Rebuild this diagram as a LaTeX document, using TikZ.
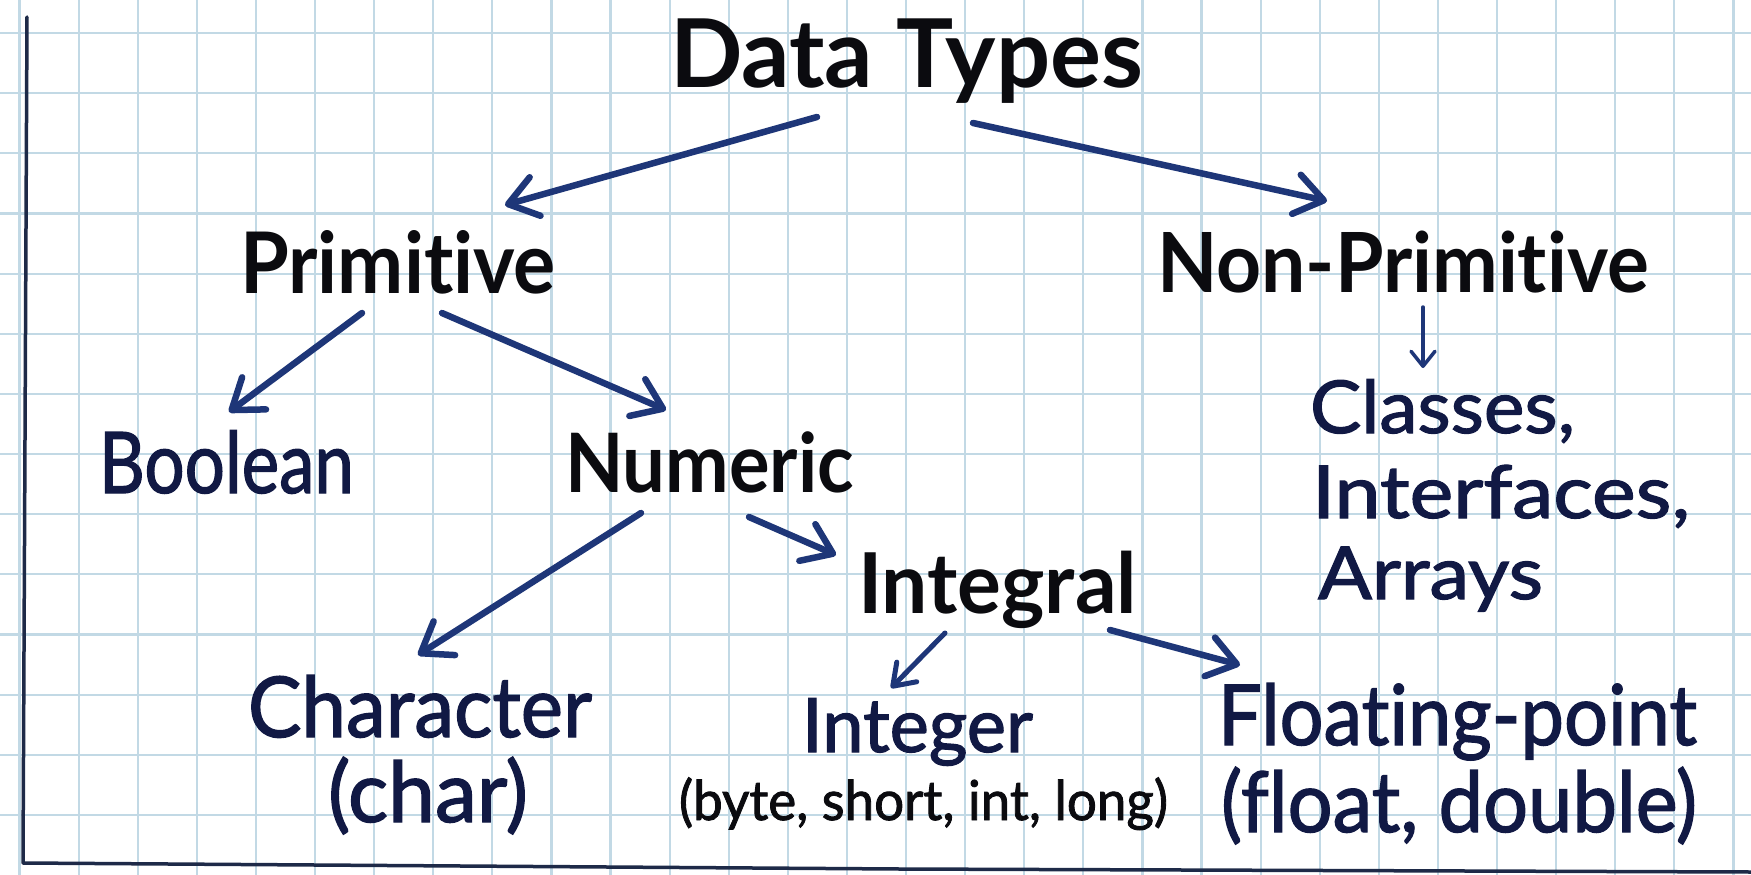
\documentclass[tikz,border=0pt]{standalone}
\usepackage{fontspec}
\setmainfont{Lato}[Ligatures=NoCommon]
\newfontfamily\inkfont{Lato}[Ligatures=NoCommon, FakeBold=1.6]
\usetikzlibrary{arrows.meta}
\definecolor{gridblue}{HTML}{C2D9E5}
\definecolor{ink}{HTML}{111944}
\definecolor{inkblack}{HTML}{0B0B0F}
\definecolor{arrowblue}{HTML}{1E3678}
\definecolor{framecol}{HTML}{1E2A48}
% set a label to a given width, keeping its natural height
\newcommand\fitw[2]{\resizebox{#1}{\height}{#2}}
\begin{document}
\begin{tikzpicture}[x=1pt,y=-1pt,
  lbl/.style={inner sep=0pt, outer sep=0pt, anchor=base west},
  boldlbl/.style={lbl, text=inkblack},
  plainlbl/.style={lbl, text=ink},
  conn/.style={draw=arrowblue, line width=6.5pt, line cap=round, line join=round,
    -{Straight Barb[length=28pt,width=40pt,round]}},
  smallconn/.style={conn, line width=5pt, -{Straight Barb[length=20pt,width=28pt,round]}},
  tinyconn/.style={conn, line width=3.5pt, -{Straight Barb[length=15pt,width=24pt,round]}},
]
% paper
\fill[white] (0,0) rectangle (1751,875);
\useasboundingbox (0,0) rectangle (1751,875);
\foreach \k in {0,...,29} \draw[gridblue, line width=2.2pt] ({19.5+59.1*\k},0) -- ++(0,875);
\foreach \k in {0,...,13} \draw[gridblue, line width=2.2pt] (0,{33+60.15*\k}) -- ++(1751,0);
\draw[framecol, line width=3.5pt, line cap=round, line join=round]
  (27,17) -- (23,863) -- (900,869) -- (1751,872);

% labels
\node[boldlbl, font={\fontsize{95}{95}\selectfont\bfseries}] (dt) at (670,88) {\fitw{473pt}{Data Types}};
\node[boldlbl, font={\fontsize{85}{85}\selectfont\bfseries}] (prim) at (240,293) {\fitw{316pt}{Primitive}};
\node[boldlbl, font={\fontsize{83}{83}\selectfont\bfseries}] (nonp) at (1157,292) {\fitw{492pt}{Non-Primitive}};
\node[plainlbl, font={\fontsize{85}{85}\selectfont\inkfont}] (bool) at (99,493) {\fitw{255pt}{Boolean}};
\node[boldlbl, font={\fontsize{82}{82}\selectfont\bfseries}] (num) at (565,492) {\fitw{289pt}{Numeric}};
\node[boldlbl, font={\fontsize{84}{84}\selectfont\bfseries}] (intl) at (858,613) {\fitw{279pt}{Integral}};
\node[plainlbl, font={\fontsize{84}{84}\selectfont\inkfont}] (chr) at (248,737) {\fitw{344pt}{Character}};
\node[plainlbl, font={\fontsize{84}{84}\selectfont\inkfont}] (chrsub) at (328,822) {\fitw{200pt}{(char)}};
\node[plainlbl, font={\fontsize{75}{75}\selectfont\inkfont}] (intg) at (802,752) {\fitw{231pt}{Integer}};
\node[lbl, text=inkblack, font={\fontsize{55}{55}\selectfont\inkfont}] (intgsub) at (679,820) {\fitw{489pt}{(byte, short, int, long)}};
\node[plainlbl, font={\fontsize{84}{84}\selectfont\inkfont}] (flt) at (1218,745) {\fitw{479pt}{Floating-point}};
\node[plainlbl, font={\fontsize{84}{84}\selectfont\inkfont}] (fltsub) at (1221,832) {\fitw{476pt}{(float, double)}};
\node[plainlbl, font={\fontsize{73}{73}\selectfont\inkfont}] (cls) at (1310,433) {\fitw{265pt}{Classes,}};
\node[plainlbl, font={\fontsize{73}{73}\selectfont\inkfont}] (ifc) at (1312,518) {\fitw{378pt}{Interfaces,}};
\node[plainlbl, font={\fontsize{73}{73}\selectfont\inkfont}] (arr) at (1318,599) {\fitw{225pt}{Arrays}};

% connectors
\draw[conn] ([shift={(147,29)}]dt.base west) -- ([shift={(265,-88)}]prim.base west);
\draw[conn] ([shift={(303,35)}]dt.base west) -- ([shift={(170,-91)}]nonp.base west);
\draw[conn] ([shift={(122,20)}]prim.base west) -- ([shift={(130,-81)}]bool.base west);
\draw[conn] ([shift={(202,20)}]prim.base west) -- ([shift={(101,-82)}]num.base west);
\draw[conn] ([shift={(76,21)}]num.base west) -- ([shift={(170,-82)}]chr.base west);
\draw[conn] ([shift={(184,25)}]num.base west) -- ([shift={(-22,-58)}]intl.base west);
\draw[smallconn] ([shift={(87,20)}]intl.base west) -- ([shift={(89,-64)}]intg.base west);
\draw[conn] ([shift={(252,17)}]intl.base west) -- ([shift={(22,-80)}]flt.base west);
\draw[tinyconn] ([shift={(266,15)}]nonp.base west) -- ([shift={(113,-65)}]cls.base west);
\end{tikzpicture}
\end{document}
